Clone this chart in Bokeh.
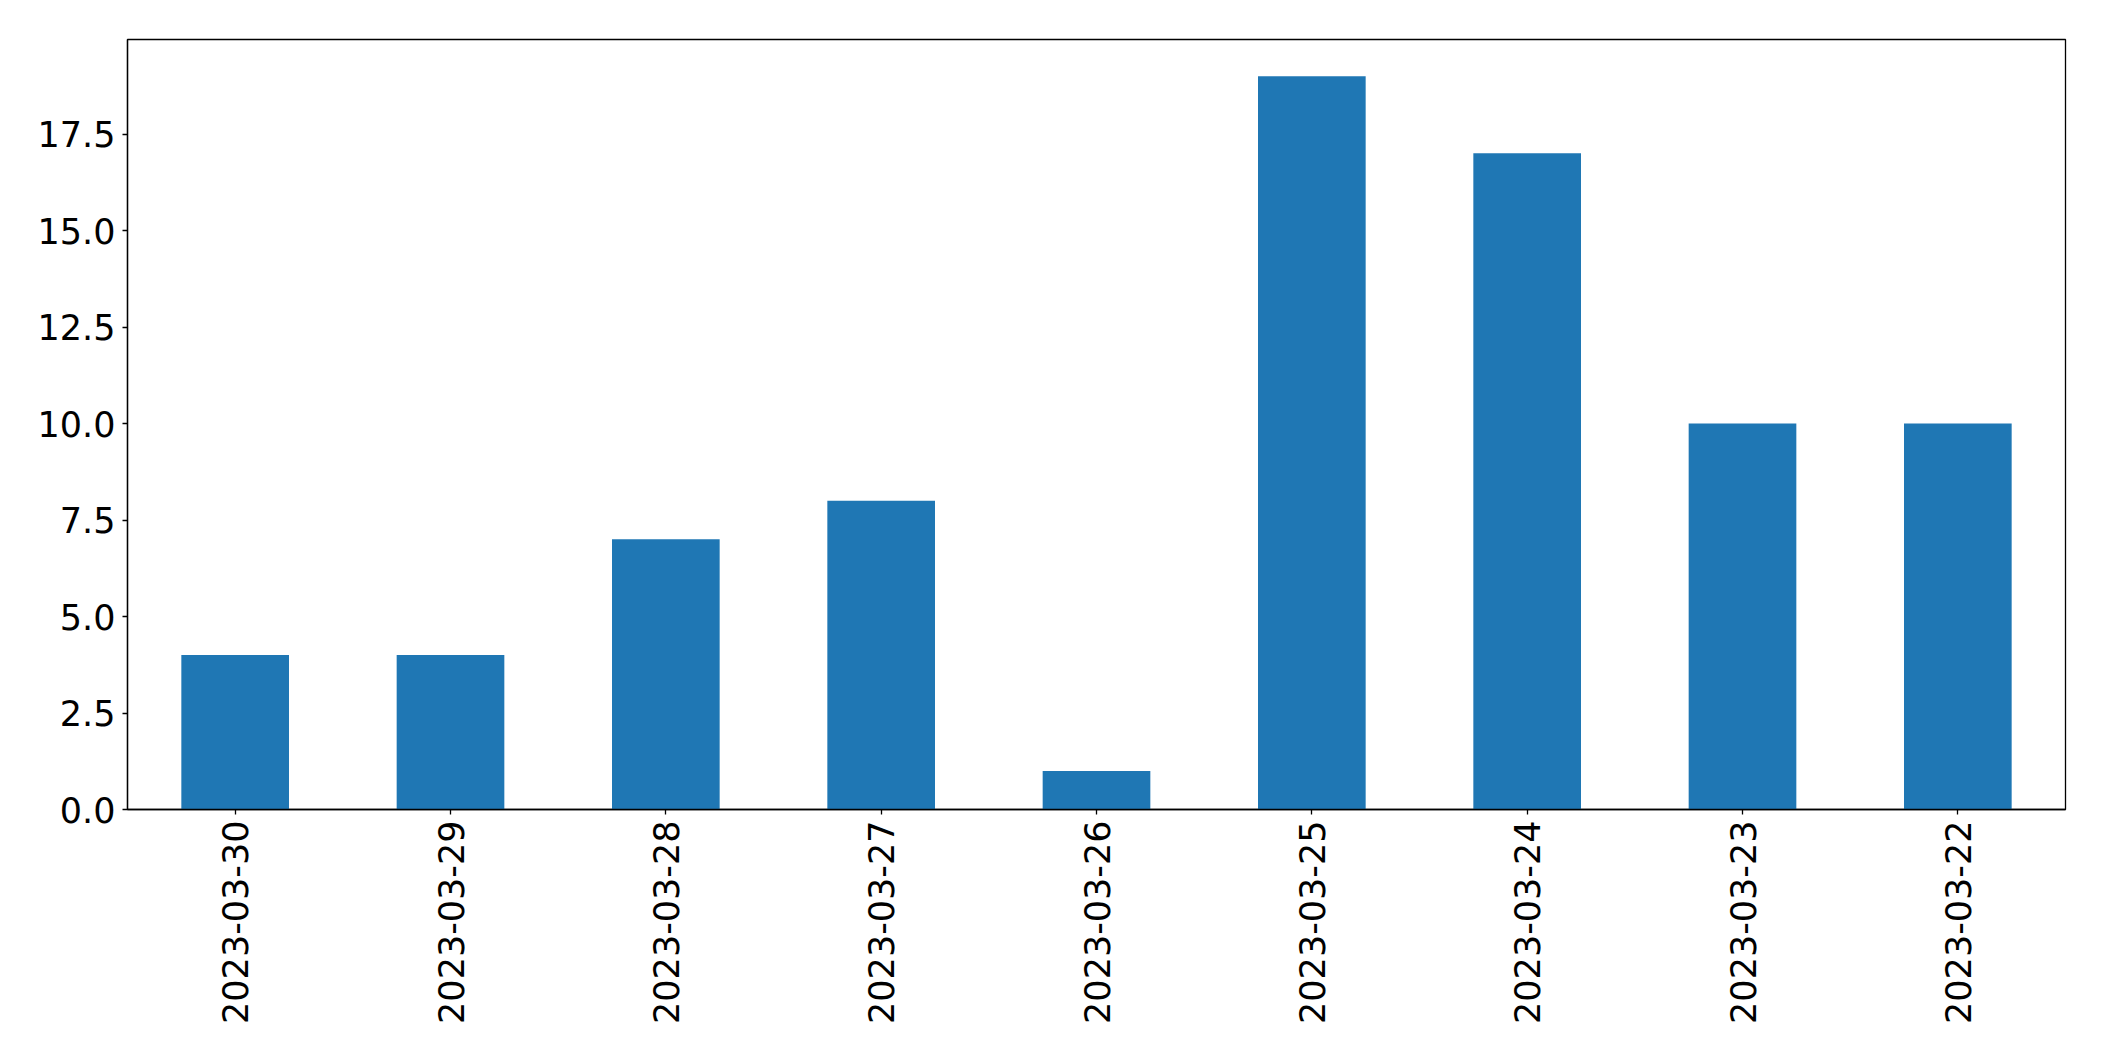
import math
from bokeh.plotting import figure
from bokeh.models import FixedTicker, Range1d, CustomJSTickFormatter
from bokeh.embed import file_html
from bokeh.resources import INLINE

dates = ["2023-03-30", "2023-03-29", "2023-03-28", "2023-03-27", "2023-03-26",
         "2023-03-25", "2023-03-24", "2023-03-23", "2023-03-22"]
counts = [4, 4, 7, 8, 1, 19, 17, 10, 10]
y_ticks = [0.0, 2.5, 5.0, 7.5, 10.0, 12.5, 15.0, 17.5]

p = figure(x_range=dates, y_range=Range1d(0, 19.95),
           frame_width=1938, frame_height=770,
           output_backend="svg", toolbar_location=None,
           min_border_left=127, min_border_right=30, min_border_top=39, min_border_bottom=20)
p.x_range.range_padding = 0

p.vbar(x=dates, top=counts, width=0.5, color="#1f77b4", line_color=None)

p.xgrid.visible = False
p.ygrid.visible = False
p.outline_line_color = "black"
p.outline_line_width = 1.3
p.outline_line_alpha = 1

FONT = "DejaVu Sans"
for ax in (p.xaxis[0], p.yaxis[0]):
    ax.major_label_text_font = FONT
    ax.major_label_text_font_size = "35px"
    ax.major_label_text_color = "black"
    ax.axis_line_color = "black"
    ax.axis_line_width = 1.3
    ax.major_tick_line_color = "black"
    ax.major_tick_line_width = 1.3
    ax.major_tick_out = 5
    ax.major_tick_in = 0
    ax.minor_tick_line_color = None

p.yaxis[0].ticker = FixedTicker(ticks=y_ticks)
p.yaxis[0].formatter = CustomJSTickFormatter(code="return tick.toFixed(1);")
p.yaxis[0].major_label_standoff = 7
p.xaxis[0].major_label_orientation = math.pi / 2
p.xaxis[0].major_label_standoff = 6

open("out.html", "w").write(file_html(p, INLINE))
